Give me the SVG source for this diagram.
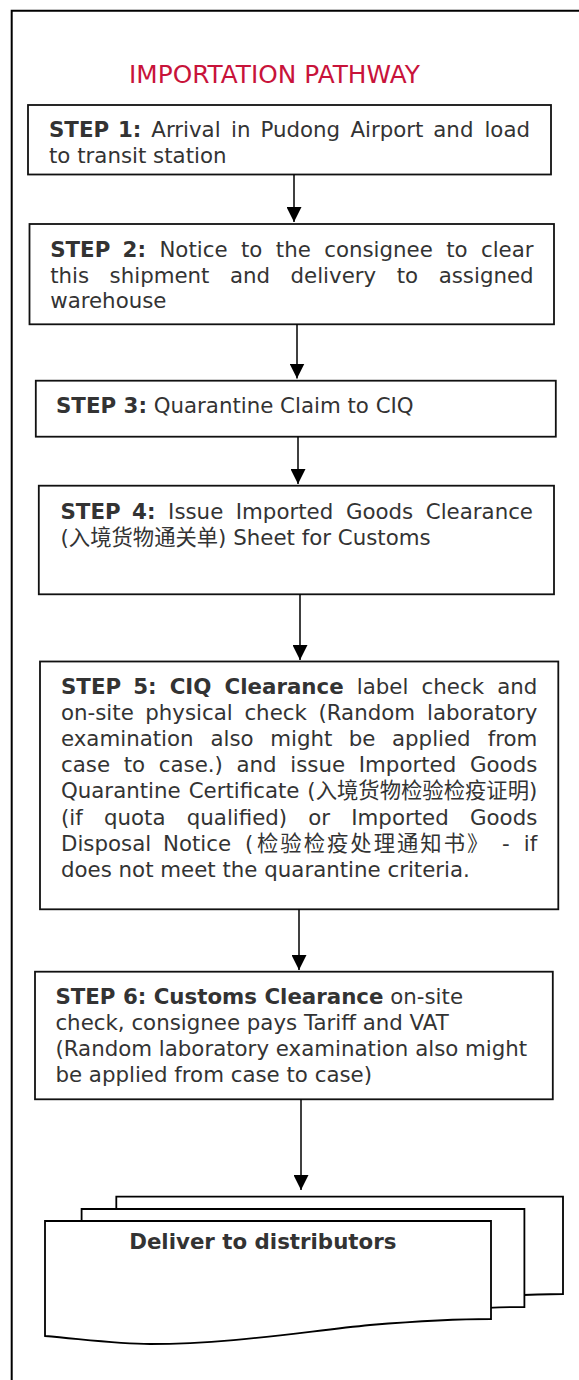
<svg xmlns="http://www.w3.org/2000/svg" width="579" height="1380" viewBox="0 0 579 1380">
<style>
.t{font-family:"DejaVu Sans","Noto Sans CJK SC",sans-serif;font-size:21.33px;fill:#333}
.b{font-weight:bold}
.e{text-anchor:end}
.title{font-family:"DejaVu Sans",sans-serif;font-size:24.8px;fill:#C8133A}
.box{fill:#fff;stroke:#111;stroke-width:1.8}
.doc{fill:#fff;stroke:#000;stroke-width:1.8;stroke-linejoin:miter}
.conn line{stroke:#000;stroke-width:1.5}
.frame{fill:none;stroke:#000;stroke-width:2}
</style>
<defs>
<marker id="ah" viewBox="0 0 15 15" refX="15" refY="7.5" markerWidth="15" markerHeight="15" markerUnits="userSpaceOnUse" orient="auto">
<path d="M0,0 L15,7.5 L0,15 Z" fill="#000"/>
</marker>
</defs>
<rect width="579" height="1380" fill="#fff"/>
<path class="frame" d="M11.7,1380 V10.7 H579"/>
<text class="title" x="129" y="83">IMPORTATION PATHWAY</text>

<g id="step1">
<rect class="box" x="28" y="105" width="523" height="69.5"/>
<text class="t" y="137"><tspan class="b" x="49">STEP</tspan><tspan class="b" x="118">1:</tspan><tspan x="151.3">Arrival</tspan><tspan x="231">in</tspan><tspan x="260.4">Pudong</tspan><tspan x="350.4">Airport</tspan><tspan x="433.3">and</tspan><tspan class="e" x="530">load</tspan></text>
<text class="t" x="49" y="162.6">to transit station</text>
</g>

<g id="step2">
<rect class="box" x="29.5" y="224" width="524.5" height="100.3"/>
<text class="t" y="257"><tspan class="b" x="50.2">STEP</tspan><tspan class="b" x="122.6">2:</tspan><tspan x="159.4">Notice</tspan><tspan x="241">to</tspan><tspan x="275.8">the</tspan><tspan x="324.2">consignee</tspan><tspan x="446.2">to</tspan><tspan class="e" x="533.6">clear</tspan></text>
<text class="t" y="282.6"><tspan x="50.2">this</tspan><tspan x="109.6">shipment</tspan><tspan x="230">and</tspan><tspan x="290.5">delivery</tspan><tspan x="396.7">to</tspan><tspan class="e" x="533.6">assigned</tspan></text>
<text class="t" x="50.2" y="308.2">warehouse</text>
</g>

<g id="step3">
<rect class="box" x="35.8" y="380.7" width="520" height="56"/>
<text class="t" x="56" y="413"><tspan class="b">STEP 3:</tspan> Quarantine Claim to CIQ</text>
</g>

<g id="step4">
<rect class="box" x="38.8" y="485.7" width="515.2" height="108.6"/>
<text class="t" y="519.3"><tspan class="b" x="60.5">STEP</tspan><tspan class="b" x="132.1">4:</tspan><tspan x="168.1">Issue</tspan><tspan x="235.8">Imported</tspan><tspan x="345.9">Goods</tspan><tspan class="e" x="533">Clearance</tspan></text>
<text class="t" x="60.5" y="545">(入境货物通关单) Sheet for Customs</text>
</g>

<g id="step5">
<rect class="box" x="40" y="661.5" width="518.3" height="247.8"/>
<text class="t" y="693.5"><tspan class="b" x="61">STEP</tspan><tspan class="b" x="133.2">5:</tspan><tspan class="b" x="169.7">CIQ</tspan><tspan class="b" x="224.6">Clearance</tspan><tspan x="356.8">label</tspan><tspan x="421.6">check</tspan><tspan class="e" x="537.3">and</tspan></text>
<text class="t" y="719.7"><tspan x="61">on-site</tspan><tspan x="145.3">physical</tspan><tspan x="244.4">check</tspan><tspan x="318.4">(Random</tspan><tspan class="e" x="537.3">laboratory</tspan></text>
<text class="t" y="745.9"><tspan x="61">examination</tspan><tspan x="210.5">also</tspan><tspan x="270.2">might</tspan><tspan x="348.8">be</tspan><tspan x="392">applied</tspan><tspan class="e" x="537.3">from</tspan></text>
<text class="t" y="772.1"><tspan x="61">case</tspan><tspan x="123.7">to</tspan><tspan x="158.8">case.)</tspan><tspan x="236.5">and</tspan><tspan x="290.3">issue</tspan><tspan x="358.8">Imported</tspan><tspan class="e" x="537.3">Goods</tspan></text>
<text class="t" y="798.3"><tspan x="61">Quarantine</tspan><tspan x="188.7">Certificate</tspan><tspan class="e" x="537.3">(入境货物检验检疫证明)</tspan></text>
<text class="t" y="824.5"><tspan x="61">(if</tspan><tspan x="104">quota</tspan><tspan x="186.8">qualified)</tspan><tspan x="308.3">or</tspan><tspan x="351.3">Imported</tspan><tspan class="e" x="537.3">Goods</tspan></text>
<text class="t" y="850.7"><tspan x="61">Disposal</tspan><tspan x="163">Notice</tspan><tspan x="245">(</tspan><tspan x="257" letter-spacing="2">检验检疫处理通知书》</tspan><tspan x="502">-</tspan><tspan class="e" x="537.3">if</tspan></text>
<text class="t" x="61" y="876.9">does not meet the quarantine criteria.</text>
</g>

<g id="step6">
<rect class="box" x="35" y="971.7" width="517.8" height="127.6"/>
<text class="t" x="55.4" y="1003.5"><tspan class="b">STEP 6: Customs Clearance</tspan> on-site</text>
<text class="t" x="55.4" y="1029.8">check, consignee pays Tariff and VAT</text>
<text class="t" x="55.4" y="1056.1">(Random laboratory examination also might</text>
<text class="t" x="55.4" y="1082.4">be applied from case to case)</text>
</g>

<g id="deliver">
<path class="doc" d="M116.3,1196.7 H563 V1294 C532,1294 492,1296 441,1300 C371,1307 301,1319 221,1319 C191,1319 161,1315 116.3,1311 Z"/>
<path class="doc" d="M81.6,1209 H524.4 V1307 C494,1307 454,1309 404,1313 C334,1320 264,1332 184,1332 C154,1332 124,1328 81.6,1324 Z"/>
<path class="doc" d="M45,1221 H491 V1319 C460,1319 420,1321 370,1325 C300,1332 230,1344 150,1344 C120,1344 90,1340 45,1336 Z"/>
<text class="t b" x="129.2" y="1249.3">Deliver to distributors</text>
</g>

<g class="conn">
<line x1="294" y1="174.5" x2="294" y2="222" marker-end="url(#ah)"/>
<line x1="297" y1="324.3" x2="297" y2="378.5" marker-end="url(#ah)"/>
<line x1="298" y1="436.7" x2="298" y2="484" marker-end="url(#ah)"/>
<line x1="300" y1="594.3" x2="300" y2="660" marker-end="url(#ah)"/>
<line x1="299" y1="909.3" x2="299" y2="970" marker-end="url(#ah)"/>
<line x1="301" y1="1099.3" x2="301" y2="1190" marker-end="url(#ah)"/>
</g>
</svg>
